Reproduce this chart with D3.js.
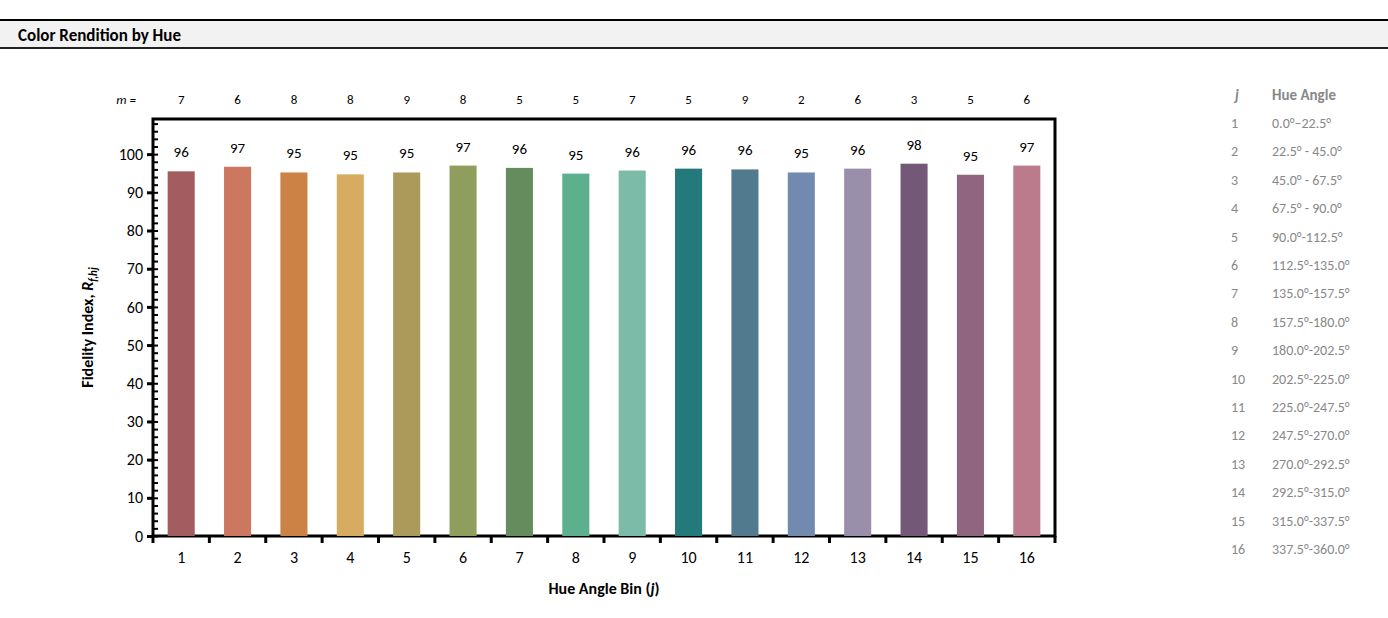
<!DOCTYPE html><html><head><meta charset="utf-8"><script src="https://cdn.jsdelivr.net/npm/d3@7"></script>
<style>body{margin:0;background:#fff}text{font-family:Calibri,"Liberation Sans Narrow","Open Sans",sans-serif}</style></head><body><svg id="c" width="1388" height="618"></svg><script>
const bins=d3.range(1,17).map(String);
const values=[95.5,96.7,95.2,94.7,95.2,97.0,96.4,94.9,95.7,96.2,96.0,95.2,96.2,97.5,94.6,97.0];
const labels=[96,97,95,95,95,97,96,95,96,96,96,95,96,98,95,97];
const counts=[7,6,8,8,9,8,5,5,7,5,9,2,6,3,5,6];
const colors=["#a35c60","#cc7860","#cc8245","#d8ac60","#ab9a5a","#8f9e5c","#658c5d","#5db08e","#7bbba7","#247a7a","#517a8f","#728ab0","#9a8fab","#735878","#8f6580","#bb7b8c"];
const hueAngles=["0.0°–22.5°","22.5° - 45.0°","45.0° - 67.5°","67.5° - 90.0°","90.0°-112.5°","112.5°-135.0°","135.0°-157.5°","157.5°-180.0°","180.0°-202.5°","202.5°-225.0°","225.0°-247.5°","247.5°-270.0°","270.0°-292.5°","292.5°-315.0°","315.0°-337.5°","337.5°-360.0°"];
const yTicks=d3.range(0,101,10);
const svg=d3.select("#c");
svg.append("rect").attr("x",0).attr("y",20).attr("width",1388).attr("height",28).attr("fill","#f2f2f2");
svg.append("line").attr("x1",0).attr("x2",1388).attr("y1",20).attr("y2",20).attr("stroke","#000").attr("stroke-width",2);
svg.append("line").attr("x1",0).attr("x2",1388).attr("y1",48).attr("y2",48).attr("stroke","#222").attr("stroke-width",2);
svg.append("text").attr("x",18).attr("y",41).attr("font-size",17).attr("font-weight","bold").text("Color Rendition by Hue");
const L=153,R=1055,T=119,B=536;
const x=d3.scaleBand().domain(bins).range([L,R]).paddingInner(0.52).paddingOuter(0.26);
const y=d3.scaleLinear().domain([0,109.2]).range([B,T]);
svg.append("rect").attr("x",L).attr("y",T).attr("width",R-L).attr("height",B-T).attr("fill","none").attr("stroke","#000").attr("stroke-width",3);
svg.selectAll(".bar").data(values).join("rect").attr("x",(d,i)=>x(bins[i])).attr("width",x.bandwidth()).attr("y",d=>y(d)).attr("height",d=>B-y(d)).attr("fill",(d,i)=>colors[i]);
svg.selectAll(".lbl").data(values).join("text").attr("x",(d,i)=>x(bins[i])+x.bandwidth()/2).attr("y",d=>y(d)-14).attr("text-anchor","middle").attr("font-size",15).text((d,i)=>labels[i]);
svg.selectAll(".m").data(counts).join("text").attr("x",(d,i)=>x(bins[i])+x.bandwidth()/2).attr("y",104).attr("text-anchor","middle").attr("font-size",13).text(d=>d);
svg.append("text").attr("x",136).attr("y",104).attr("text-anchor","end").attr("font-size",13).attr("font-style","italic").text("m =");
// y axis
const ya=svg.append("g").attr("transform",`translate(${L},0)`).call(d3.axisLeft(y).tickValues(yTicks).tickSize(6).tickPadding(4).tickFormat(d3.format("d")));
ya.select(".domain").remove();
ya.selectAll("line").attr("stroke-width",3);ya.selectAll("text").attr("font-size",16).attr("font-family",'Calibri,"Open Sans",sans-serif');
svg.append("g").attr("transform",`translate(${L},0)`).call(d3.axisRight(y).tickValues(d3.range(0,109,2)).tickSize(5).tickFormat("")).call(g=>g.select(".domain").remove()).selectAll("line").attr("stroke-width",2);
// x axis
const xa=svg.append("g").attr("transform",`translate(0,${B})`).call(d3.axisBottom(x).tickSize(0).tickPadding(16));
xa.select(".domain").remove();xa.selectAll("text").attr("font-size",16).attr("font-family",'Calibri,"Open Sans",sans-serif');
const step=x.step();
svg.selectAll(".xt").data(d3.range(17)).join("line").attr("x1",d=>L+d*step).attr("x2",d=>L+d*step).attr("y1",B).attr("y2",B+7).attr("stroke","#000").attr("stroke-width",3);
const xl=svg.append("text").attr("x",(L+R)/2).attr("y",594).attr("text-anchor","middle").attr("font-size",16).attr("font-weight","bold");
xl.append("tspan").text("Hue Angle Bin (");xl.append("tspan").attr("font-style","italic").text("j");xl.append("tspan").text(")");
const yl=svg.append("text").attr("transform",`translate(93,${(T+B)/2}) rotate(-90)`).attr("text-anchor","middle").attr("font-size",16).attr("font-weight","bold");
yl.append("tspan").text("Fidelity Index, ");yl.append("tspan").attr("font-style","italic").text("R");yl.append("tspan").attr("font-style","italic").attr("font-size",11).attr("dy",4).text("f,hj");
// table
svg.append("text").attr("x",1235).attr("y",100).attr("font-size",15).attr("font-style","italic").attr("font-weight","bold").attr("fill","#888").text("j");
svg.append("text").attr("x",1272).attr("y",100).attr("font-size",15).attr("font-weight","bold").attr("fill","#888").text("Hue Angle");
svg.selectAll(".tj").data(hueAngles).join("text").attr("x",1231).attr("y",(d,i)=>128+i*28.4).attr("font-size",14).attr("fill","#888").text((d,i)=>i+1);
svg.selectAll(".th").data(hueAngles).join("text").attr("x",1272).attr("y",(d,i)=>128+i*28.4).attr("font-size",14).attr("fill","#888").text(d=>d);
</script></body></html>
